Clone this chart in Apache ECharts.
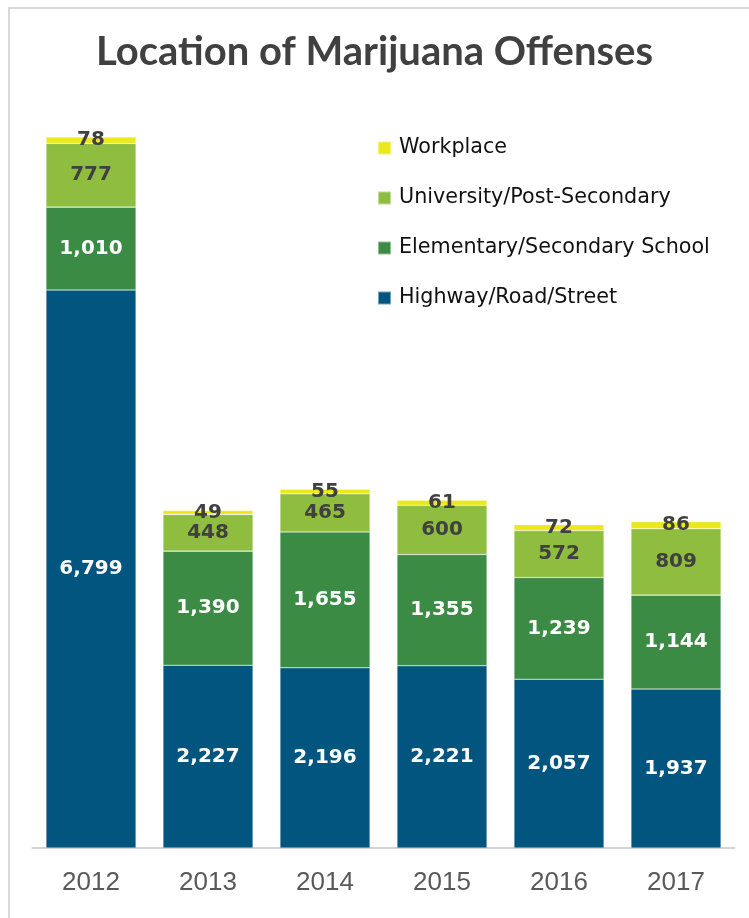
<!DOCTYPE html>
<html>
<head>
<meta charset="utf-8">
<script src="https://cdn.jsdelivr.net/npm/echarts@6/dist/echarts.min.js"></script>
<style>
  html, body { margin: 0; padding: 0; background: #ffffff; }
  #chart { width: 749px; height: 918px; }
</style>
</head>
<body>
<div id="chart"></div>
<script>
// Marijuana offences by location, 2012-2017
const years = ['2012', '2013', '2014', '2015', '2016', '2017'];
const highway = [6799, 2227, 2196, 2221, 2057, 1937];
const elementary = [1010, 1390, 1655, 1355, 1239, 1144];
const university = [777, 448, 465, 600, 572, 809];
const workplace = [78, 49, 55, 61, 72, 86];

const fmt = p => Number(p.value).toLocaleString('en-US');
const labelFont = 'DejaVu Sans';

function seriesFor(name, data, color, labelColor) {
  return {
    name: name,
    type: 'bar',
    stack: 'total',
    data: data,
    barCategoryGap: '23%',
    itemStyle: { color: color, borderColor: 'rgba(255,255,255,0.45)', borderWidth: 0.6 },
    label: {
      show: true,
      position: 'inside',
      formatter: fmt,
      color: labelColor,
      fontFamily: labelFont,
      fontWeight: 'bold',
      fontSize: 20
    },
    emphasis: { disabled: true }
  };
}

const chart = echarts.init(document.getElementById('chart'), null, { renderer: 'canvas' });
chart.setOption({
  animation: false,
  backgroundColor: '#ffffff',
  title: {
    text: 'Location of Marijuana Offenses',
    left: 'center',
    top: 27,
    textStyle: {
      fontFamily: 'Lato',
      fontWeight: 'bold',
      fontSize: 40,
      color: '#404040'
    }
  },
  legend: {
    orient: 'vertical',
    left: 372,
    top: 132,
    icon: 'rect',
    itemWidth: 13,
    itemHeight: 13,
    itemGap: 28,
    data: ['Workplace', 'University/Post-Secondary', 'Elementary/Secondary School', 'Highway/Road/Street'],
    textStyle: {
      fontFamily: 'DejaVu Sans',
      fontSize: 20.7,
      color: '#111111',
      padding: [0, 0, 0, 3],
      lineHeight: 22
    }
  },
  grid: { left: 32.5, right: 14.5, top: 109.4, bottom: 70 },
  xAxis: {
    type: 'category',
    data: years,
    axisLine: { lineStyle: { color: '#d4d4d4', width: 2 } },
    axisTick: { show: false },
    axisLabel: {
      margin: 22,
      fontFamily: 'Liberation Sans',
      fontSize: 26,
      color: '#595959'
    }
  },
  yAxis: {
    type: 'value',
    min: 0,
    max: 9000,
    show: false,
    splitLine: { show: false }
  },
  graphic: [{
    type: 'polyline',
    silent: true,
    shape: { points: [[9, 918], [9, 8], [749, 8]] },
    style: { stroke: '#d9d9d9', lineWidth: 2, fill: null }
  }],
  series: [
    seriesFor('Highway/Road/Street', highway, '#02557f', '#ffffff'),
    seriesFor('Elementary/Secondary School', elementary, '#3b8b45', '#ffffff'),
    seriesFor('University/Post-Secondary', university, '#8fbd3f', '#404040'),
    seriesFor('Workplace', workplace, '#ebe81b', '#404040')
  ]
});
</script>
</body>
</html>
